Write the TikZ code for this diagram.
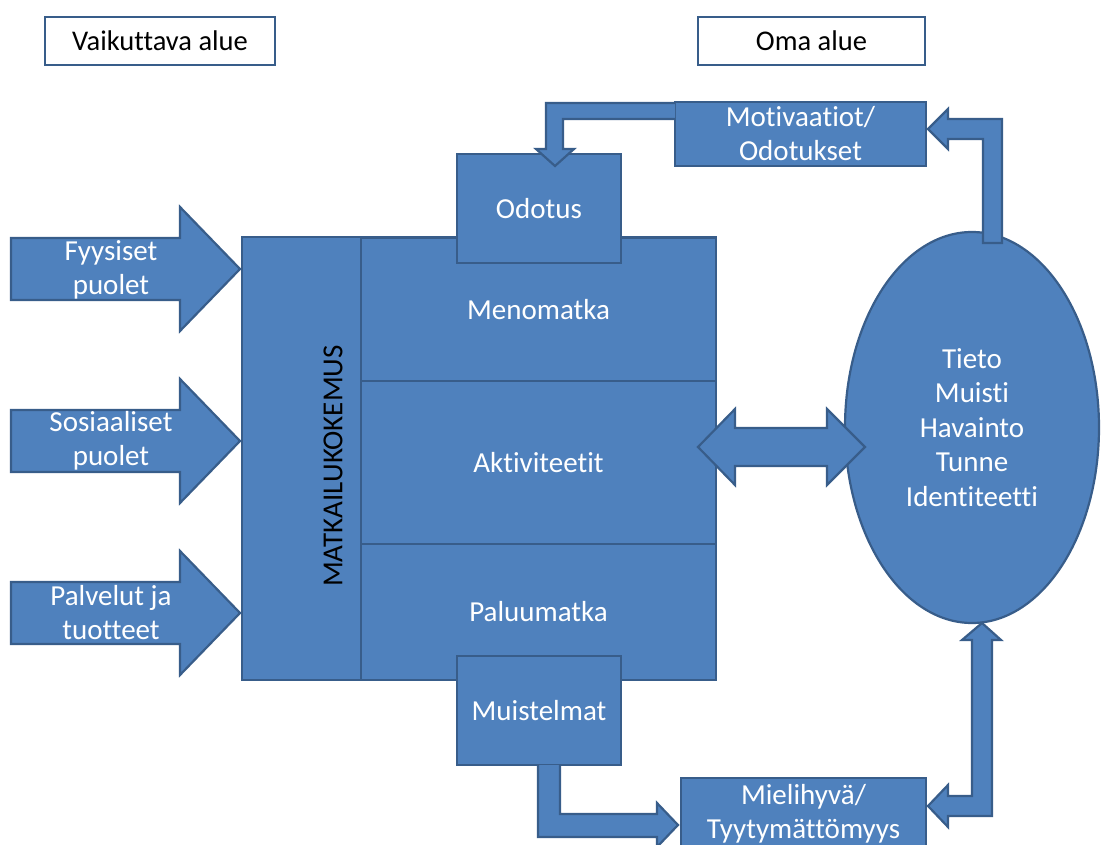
\documentclass[tikz,border=0pt]{standalone}
\usepackage{fontspec}
\setmainfont{Carlito}[Ligatures={NoCommon}]
\usetikzlibrary{shapes.geometric}
\definecolor{bfill}{HTML}{4F81BD}
\definecolor{bline}{HTML}{385D8A}
\tikzset{
  bluebox/.style={rectangle, fill=bfill, draw=bline, line width=2.2pt, text=white, inner sep=0pt, align=center, font=\fontsize{29}{34}\selectfont},
  whitebox/.style={rectangle, fill=white, draw=bline, line width=2.6pt, text=black, inner sep=0pt, align=center, font=\fontsize{28.5}{34}\selectfont},
  blk/.style={fill=bfill, draw=bline, line width=2.2pt, line join=miter},
  wtext/.style={text=white, align=center, inner sep=0pt, font=\fontsize{29}{34}\selectfont},
}
\begin{document}
\begin{tikzpicture}[x=1pt,y=-1pt]
\useasboundingbox (0,0) rectangle (1101,845);
\clip (0,0) rectangle (1101,845);
\fill[white] (0,0) rectangle (1101,845);

% header labels
\node[whitebox, minimum width=230, minimum height=48] (vaik) at (160,41) {Vaikuttava alue};
\node[whitebox, minimum width=227, minimum height=48] (oma) at (811.5,41) {Oma alue};

% main block
\node[bluebox, minimum width=119, minimum height=443] (col) at (301.5,458.5) {};
\node[bluebox, minimum width=355, minimum height=144] (meno) at (538.5,309.5) {Menomatka};
\node[bluebox, minimum width=355, minimum height=163] (akt) at (538.5,462.5) {Aktiviteetit};
\node[bluebox, minimum width=355, minimum height=136] (paluu) at (538.5,612) {Paluumatka};
\node[rotate=90, inner sep=0pt, font=\fontsize{29}{34}\selectfont] (mtext) at (333,466) {MATKAILUKOKEMUS};

% Odotus and Muistelmat
\node[bluebox, minimum width=164, minimum height=109] (odotus) at (539,208.5) {Odotus};
\node[bluebox, minimum width=164, minimum height=109] (muist) at (539,710.5) {Muistelmat};

% ellipse
\node[ellipse, fill=bfill, draw=bline, line width=2.2pt, inner sep=0pt, minimum width=254, minimum height=391, text=white, align=center, font=\fontsize{29}{34.5}\selectfont] (oma2) at (972,427.5) {Tieto\\Muisti\\Havainto\\Tunne\\Identiteetti};

% right-side boxes
\node[bluebox, minimum width=251, minimum height=64] (motiv) at (800.5,134) {Motivaatiot/\\Odotukset};
\node[bluebox, minimum width=245, minimum height=71] (mieli) at (803.5,813.5) {Mielihyvä/\\Tyytymättömyys};

% left input arrows
\draw[blk] (11,238) -- (180,238) -- (180,207) -- (240,269) -- (180,331) -- (180,300) -- (11,300) -- cycle;
\draw[blk] (11,410) -- (180,410) -- (180,379) -- (240,441) -- (180,503) -- (180,472) -- (11,472) -- cycle;
\draw[blk] (11,582) -- (180,582) -- (180,551) -- (240,613) -- (180,675) -- (180,644) -- (11,644) -- cycle;
\node[wtext] (fy) at (111,270) {Fyysiset\\puolet};
\node[wtext] (so) at (111,441) {Sosiaaliset\\puolet};
\node[wtext] (pa) at (111,613) {Palvelut ja\\tuotteet};

% double arrow between block and ellipse
\draw[blk] (698,447) -- (735,409) -- (735,428) -- (827,428) -- (827,409) -- (865,447)
  -- (827,485) -- (827,466) -- (735,466) -- (735,485) -- cycle;

% Motivaatiot -> Odotus
\draw[blk] (675,103) -- (546,103) -- (546,149) -- (536,149) -- (555,166) -- (574,149)
  -- (563,149) -- (563,119) -- (675,119);

% ellipse -> Motivaatiot
\draw[blk] (983,243) -- (983,139) -- (948,139) -- (948,149) -- (928,129) -- (948,109)
  -- (948,119) -- (1002,119) -- (1002,243) -- cycle;

% Muistelmat -> Mielihyva
\draw[blk] (538,765) -- (538,837) -- (657,837) -- (657,847) -- (678,825) -- (657,803)
  -- (657,814) -- (560,814) -- (560,765);

% Mielihyva <-> ellipse
\draw[blk] (982,623) -- (1001,640) -- (992,640) -- (992,816) -- (948,816) -- (948,827)
  -- (928,806) -- (948,785) -- (948,796) -- (972,796) -- (972,640) -- (962,640) -- cycle;
\end{tikzpicture}
\end{document}
